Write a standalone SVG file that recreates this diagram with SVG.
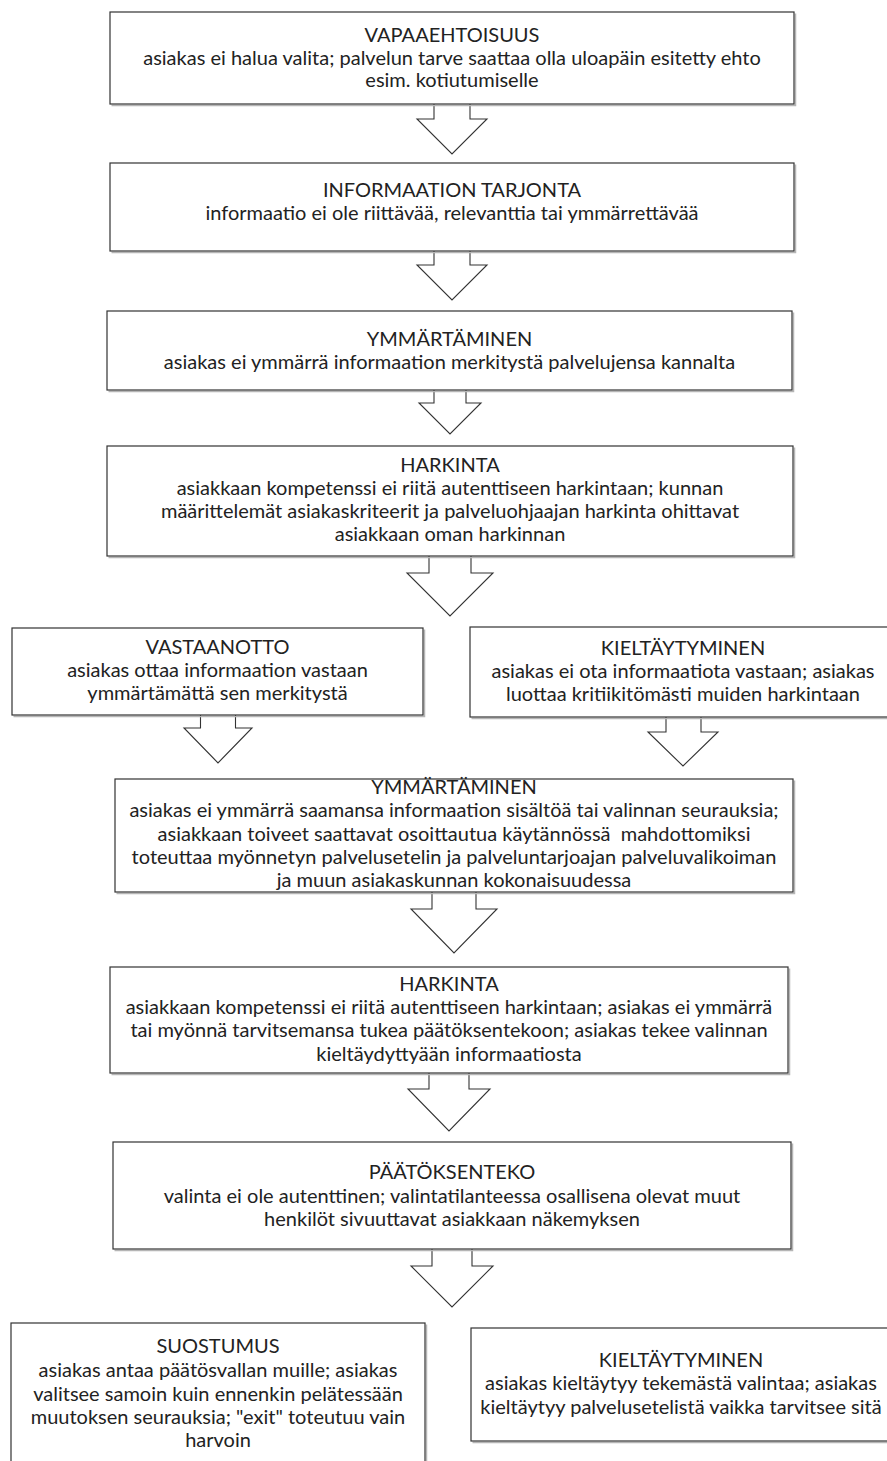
<svg xmlns="http://www.w3.org/2000/svg" width="887" height="1461" viewBox="0 0 887 1461">
<style>
.box{fill:#fff;stroke:#333;stroke-width:1.2}
.sh{fill:none;stroke:#b5b5b5;stroke-width:1.5}
.arr{fill:#fff;stroke:#333;stroke-width:1.1;stroke-linejoin:miter}
text{font-family:Lato,"Open Sans","Liberation Sans",sans-serif;font-size:20px;fill:#222;text-anchor:middle}
</style>
<rect width="887" height="1461" fill="#fff"/>
<g id="connectors">
<polyline class="arr" points="434,104 434,119 417,119 452,154 487,119 470,119 470,104"/>
<polyline class="arr" points="434,251 434,265 417,265 452,300 487,265 470,265 470,251"/>
<polyline class="arr" points="434,390 434,403 419,403 450,434 481,403 466,403 466,390"/>
<polyline class="arr" points="429,556 429,573 407,573 450,616 493,573 471,573 471,556"/>
<polyline class="arr" points="200.5,715 200.5,728 184,728 218,763 252,728 235.5,728 235.5,715"/>
<polyline class="arr" points="666,717 666,732 648,732 683,766 718,732 701,732 701,717"/>
<polyline class="arr" points="432,892 432,909 411,909 454,953 497,909 476,909 476,892"/>
<polyline class="arr" points="429,1073 429,1089 408,1089 449,1131 490,1089 469,1089 469,1073"/>
<polyline class="arr" points="432,1249 432,1266 411,1266 452,1307 493,1266 472,1266 472,1249"/>
</g>
<g id="n1">
<polyline class="sh" points="795.5,13.5 795.5,105.5 111.5,105.5"/>
<rect class="box" x="110" y="12" width="684" height="92"/>
<text x="452" y="42">VAPAAEHTOISUUS</text>
<text x="452" y="64.5">asiakas ei halua valita; palvelun tarve saattaa olla uloapäin esitetty ehto</text>
<text x="452" y="87">esim. kotiutumiselle</text>
</g>
<g id="n2">
<polyline class="sh" points="795.5,164.5 795.5,252.5 111.5,252.5"/>
<rect class="box" x="110" y="163" width="684" height="88"/>
<text x="452" y="197">INFORMAATION TARJONTA</text>
<text x="452" y="220">informaatio ei ole riittävää, relevanttia tai ymmärrettävää</text>
</g>
<g id="n3">
<polyline class="sh" points="793.5,312.5 793.5,391.5 108.5,391.5"/>
<rect class="box" x="107" y="311" width="685" height="79"/>
<text x="449.5" y="345.5">YMMÄRTÄMINEN</text>
<text x="449.5" y="368.5">asiakas ei ymmärrä informaation merkitystä palvelujensa kannalta</text>
</g>
<g id="n4">
<polyline class="sh" points="794.5,447.5 794.5,557.5 108.5,557.5"/>
<rect class="box" x="107" y="446" width="686" height="110"/>
<text x="450" y="471.5">HARKINTA</text>
<text x="450" y="494.5">asiakkaan kompetenssi ei riitä autenttiseen harkintaan; kunnan</text>
<text x="450" y="517.5">määrittelemät asiakaskriteerit ja palveluohjaajan harkinta ohittavat</text>
<text x="450" y="540.5">asiakkaan oman harkinnan</text>
</g>
<g id="n5">
<polyline class="sh" points="424.5,629.5 424.5,716.5 13.5,716.5"/>
<rect class="box" x="12" y="628" width="411" height="87"/>
<text x="217.5" y="654">VASTAANOTTO</text>
<text x="217.5" y="677">asiakas ottaa informaation vastaan</text>
<text x="217.5" y="700">ymmärtämättä sen merkitystä</text>
</g>
<g id="n6">
<polyline class="sh" points="897.5,628.5 897.5,718.5 471.5,718.5"/>
<rect class="box" x="470" y="627" width="426" height="90"/>
<text x="683" y="655">KIELTÄYTYMINEN</text>
<text x="683" y="678">asiakas ei ota informaatiota vastaan; asiakas</text>
<text x="683" y="701">luottaa kritiikitömästi muiden harkintaan</text>
</g>
<g id="n7">
<polyline class="sh" points="794.5,780.5 794.5,893.5 116.5,893.5"/>
<rect class="box" x="115" y="779" width="678" height="113"/>
<text x="454" y="794">YMMÄRTÄMINEN</text>
<text x="454" y="817.3">asiakas ei ymmärrä saamansa informaation sisältöä tai valinnan seurauksia;</text>
<text x="454" y="840.6" xml:space="preserve">asiakkaan toiveet saattavat osoittautua käytännössä  mahdottomiksi</text>
<text x="454" y="864">toteuttaa myönnetyn palvelusetelin ja palveluntarjoajan palveluvalikoiman</text>
<text x="454" y="887.3">ja muun asiakaskunnan kokonaisuudessa</text>
</g>
<g id="n8">
<polyline class="sh" points="789.5,968.5 789.5,1074.5 111.5,1074.5"/>
<rect class="box" x="110" y="967" width="678" height="106"/>
<text x="449" y="990.7">HARKINTA</text>
<text x="449" y="1014">asiakkaan kompetenssi ei riitä autenttiseen harkintaan; asiakas ei ymmärrä</text>
<text x="449" y="1037.3">tai myönnä tarvitsemansa tukea päätöksentekoon; asiakas tekee valinnan</text>
<text x="449" y="1060.6">kieltäydyttyään informaatiosta</text>
</g>
<g id="n9">
<polyline class="sh" points="792.5,1143.5 792.5,1250.5 114.5,1250.5"/>
<rect class="box" x="113" y="1142" width="678" height="107"/>
<text x="452" y="1179.3">PÄÄTÖKSENTEKO</text>
<text x="452" y="1202.6">valinta ei ole autenttinen; valintatilanteessa osallisena olevat muut</text>
<text x="452" y="1226">henkilöt sivuuttavat asiakkaan näkemyksen</text>
</g>
<g id="n10">
<polyline class="sh" points="426.5,1324.5 426.5,1471"/>
<rect class="box" x="11" y="1323" width="414" height="147"/>
<text x="218" y="1353.3">SUOSTUMUS</text>
<text x="218" y="1377">asiakas antaa päätösvallan muille; asiakas</text>
<text x="218" y="1400.5">valitsee samoin kuin ennenkin pelätessään</text>
<text x="218" y="1424">muutoksen seurauksia; "exit" toteutuu vain</text>
<text x="218" y="1447">harvoin</text>
</g>
<g id="n11">
<polyline class="sh" points="892.5,1329.5 892.5,1442.5 472.5,1442.5"/>
<rect class="box" x="471" y="1328" width="420" height="113"/>
<text x="681" y="1367">KIELTÄYTYMINEN</text>
<text x="681" y="1390">asiakas kieltäytyy tekemästä valintaa; asiakas</text>
<text x="681" y="1413.5">kieltäytyy palvelusetelistä vaikka tarvitsee sitä</text>
</g>
</svg>
